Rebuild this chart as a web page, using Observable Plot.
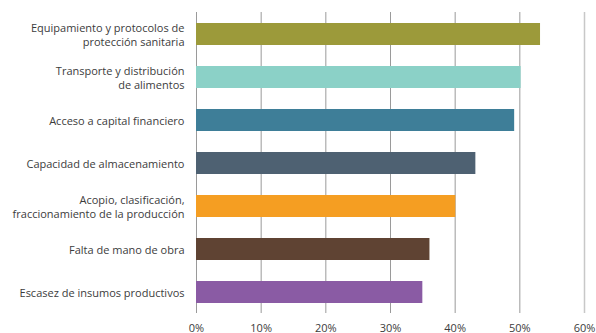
<!DOCTYPE html>
<html>
<head>
<meta charset="utf-8">
<script src="https://cdn.jsdelivr.net/npm/d3@7"></script>
<script src="https://cdn.jsdelivr.net/npm/@observablehq/plot@0.6"></script>
<style>
  html, body { margin: 0; padding: 0; background: #fff; }
  #chart svg { display: block; }
</style>
</head>
<body>
<div id="chart"></div>
<script>
const categories = [
  "Equipamiento y protocolos de\nprotección sanitaria",
  "Transporte y distribución\nde alimentos",
  "Acceso a capital financiero",
  "Capacidad de almacenamiento",
  "Acopio, clasificación,\nfraccionamiento de la producción",
  "Falta de mano de obra",
  "Escasez de insumos productivos"
];
const values = [0.532, 0.502, 0.492, 0.432, 0.401, 0.361, 0.350];
const colors = ["#9c9a3a", "#8bd1c7", "#3e7e98", "#4e6172", "#f59e22", "#5f4333", "#8a5ba4"];
const xTicks = [0, 0.1, 0.2, 0.3, 0.4, 0.5];
const xMax = 0.6;

const data = categories.map((c, i) => ({category: c, value: values[i], color: colors[i]}));

const chart = Plot.plot({
  width: 596,
  height: 333,
  marginTop: 12,
  marginBottom: 20,
  marginLeft: 196,
  marginRight: 12,
  style: {fontFamily: "'Open Sans', sans-serif", fontSize: "11px", color: "#3c3c3c", background: "#fff"},
  x: {domain: [0, xMax], label: null},
  y: {domain: categories, paddingInner: 0.5, paddingOuter: 0.207, label: null},
  marks: [
    Plot.ruleX(xTicks, {stroke: "#9a9a9a", strokeWidth: 1}),
    Plot.ruleX([xMax], {stroke: "#c8c8c8", strokeWidth: 1.5}),
    Plot.barX(data, {x: "value", y: "category", fill: "color"}),
    Plot.axisY({tickSize: 0, tickPadding: 12, lineHeight: 1.25, fill: "#3c3c3c", fontSize: 11, label: null}),
    Plot.axisX([...xTicks, xMax], {tickSize: 0, tickPadding: 11, tickFormat: d3.format(".0%"), fill: "#3c3c3c", fontSize: 11, label: null})
  ]
});
document.getElementById("chart").appendChild(chart);
</script>
</body>
</html>
